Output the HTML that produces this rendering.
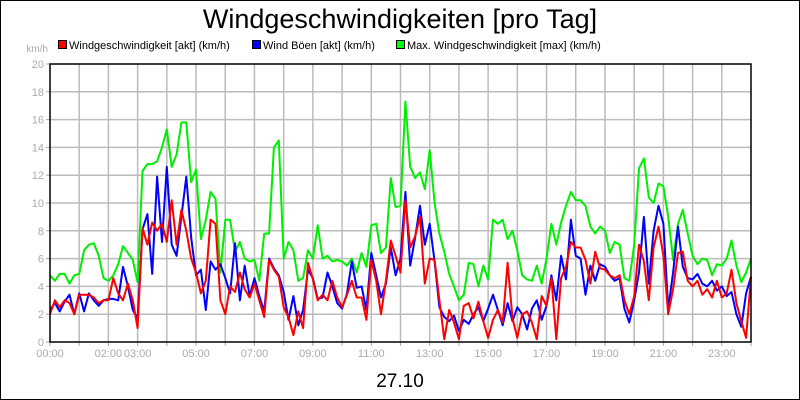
<!DOCTYPE html>
<html><head><meta charset="utf-8"><style>
body{margin:0;background:#fff}
svg{display:block;font-family:"Liberation Sans",sans-serif}
</style></head><body>
<svg id="chart" width="800" height="400" viewBox="0 0 800 400">
<rect x="0.5" y="0.5" width="799" height="399" fill="#fff" stroke="#000"/>
<text x="400" y="28" text-anchor="middle" font-size="27">Windgeschwindigkeiten [pro Tag]</text>
<g>
<g><rect x="58.5" y="40.5" width="8" height="8" fill="#f00" stroke="#000"/><text x="69" y="49" font-size="11">Windgeschwindigkeit [akt] (km/h)</text></g>
<g><rect x="252.5" y="40.5" width="8" height="8" fill="#00f" stroke="#000"/><text x="263" y="49" font-size="11">Wind Böen [akt] (km/h)</text></g>
<g><rect x="396.5" y="40.5" width="8" height="8" fill="#0f0" stroke="#000"/><text x="407" y="49" font-size="11">Max. Windgeschwindigkeit [max] (km/h)</text></g>
</g>
<text x="48" y="52" text-anchor="end" font-size="10" fill="#aaa">km/h</text>
<g id="grid"></g>
<g id="yaxis"></g>
<g id="xaxis"></g>
<g id="series"></g>
<rect x="50" y="64" width="701" height="278" fill="none" stroke="#000" stroke-width="1.5"/>
<text x="400" y="387" text-anchor="middle" font-size="19">27.10</text>
</svg>
<script>
const yTicks=[0,2,4,6,8,10,12,14,16,18,20];
const xTickLabels=["00:00","02:00","03:00","05:00","07:00","09:00","11:00","13:00","15:00","17:00","19:00","21:00","23:00"];
const xTickHours=[0,2,3,5,7,9,11,13,15,17,19,21,23];
const stepMinutes=10;
const maxSpeed=[4.8,4.4,4.9,4.9,4.2,4.8,4.9,6.6,7.0,7.1,6.2,4.6,4.4,4.8,5.6,6.9,6.4,5.9,4.3,12.3,12.8,12.8,13.0,14.0,15.3,12.6,13.5,15.8,15.8,11.5,12.4,7.4,8.8,10.8,10.3,5.0,
8.8,8.8,6.5,7.2,6.0,5.8,5.9,4.4,7.8,7.8,14.0,14.5,6.0,7.2,6.6,4.4,4.6,6.6,6.0,8.4,6.0,6.2,5.8,5.9,5.8,5.5,6.0,5.0,6.4,5.4,8.4,8.5,6.4,6.8,11.8,9.7,
9.8,17.3,12.6,11.8,12.2,11.0,13.8,10.0,7.8,6.5,4.9,4.0,3.0,3.4,5.7,5.6,4.0,5.5,4.5,8.8,8.5,8.8,7.4,8.0,6.6,4.8,4.5,4.4,5.5,4.2,6.0,8.5,7.0,8.6,9.8,10.8,10.2,
10.2,9.8,8.3,7.8,8.3,8.0,6.4,7.2,7.0,4.6,4.4,7.0,12.5,13.2,10.4,10.0,11.4,11.2,9.0,5.9,8.5,9.5,7.8,6.2,5.6,6.0,5.9,4.8,5.6,5.5,6.0,7.3,5.5,4.3,5.0,6.0];
const gusts=[2.3,2.8,2.2,2.9,3.4,2.0,3.5,2.2,3.5,3.0,2.6,3.0,3.1,3.1,3.0,5.4,4.0,2.3,1.7,8.1,9.2,4.9,11.9,7.2,12.6,7.0,6.2,9.0,11.9,7.5,4.8,5.2,2.3,5.8,5.2,5.6,
4.6,3.5,7.1,3.0,5.5,3.3,4.6,3.3,2.2,6.0,5.3,4.8,3.6,1.6,3.3,1.2,2.3,5.2,4.6,3.1,3.2,5.0,4.0,2.8,2.4,3.5,5.8,3.9,4.0,2.3,6.4,4.8,3.2,4.2,6.8,4.8,
6.0,10.8,5.5,7.5,9.8,7.0,8.5,5.8,2.5,1.8,1.5,1.9,0.8,1.6,1.3,2.0,2.5,1.5,2.4,3.4,2.3,1.2,2.8,1.5,2.5,2.0,0.9,2.4,3.0,1.6,2.6,4.8,3.0,6.2,4.5,8.8,6.2,
6.0,3.4,5.5,4.4,5.6,5.4,4.8,4.4,4.6,2.4,1.4,3.0,5.0,9.0,4.2,8.0,9.8,8.5,2.4,5.0,8.3,5.4,4.6,4.5,4.9,4.2,4.0,4.4,3.7,4.0,3.3,3.6,2.0,1.1,3.5,4.7];
const speed=[2.0,3.0,2.5,3.0,2.8,2.0,3.4,3.4,3.4,3.2,2.8,3.0,3.0,4.6,3.5,3.0,4.2,3.0,1.0,8.2,7.0,8.6,8.0,8.5,7.2,10.2,7.0,9.5,8.0,6.0,5.0,3.5,4.4,8.8,8.5,3.0,
2.0,4.0,3.6,5.0,3.8,3.2,4.2,3.0,1.8,5.9,5.2,4.7,2.5,1.8,0.5,2.2,1.0,5.7,4.5,3.0,3.4,3.0,4.4,3.2,2.5,3.4,4.4,3.2,3.2,1.6,5.9,4.4,2.0,4.4,7.3,6.2,
5.0,10.2,6.8,7.6,9.0,4.2,6.0,5.9,3.0,0.2,2.3,1.4,0.2,2.6,2.8,1.7,2.9,1.5,0.3,1.6,2.3,1.4,5.7,1.7,0.3,2.0,2.2,1.4,0.2,3.3,2.6,4.6,0.2,4.6,5.4,7.2,6.8,
6.8,5.9,4.2,6.5,5.3,5.2,4.8,4.6,4.8,3.0,2.0,3.3,7.0,5.8,3.0,6.8,8.3,6.2,2.0,3.8,6.4,6.5,4.4,4.0,4.4,3.4,3.8,3.2,4.4,3.2,3.5,5.2,2.8,1.5,0.3,4.7];

const NS="http://www.w3.org/2000/svg";
const X0=50,X1=751,Y0=342,Y1=64,YMAX=20;
const xOf=h=>X0+(X1-X0)*h/24;
const yOf=v=>Y0-(Y0-Y1)*v/YMAX;
function mk(tag,attrs,parent){const e=document.createElementNS(NS,tag);for(const k in attrs)e.setAttribute(k,attrs[k]);parent.appendChild(e);return e;}
const grid=document.getElementById('grid'),ya=document.getElementById('yaxis'),xa=document.getElementById('xaxis'),ser=document.getElementById('series');
for(let h=1;h<24;h++){const x=xOf(h);
 const l=mk('line',{x1:x,x2:x,y1:Y1,y2:Y0,stroke:'#bbb','stroke-width':1.5},grid);
 
 }
for(let h=0;h<=24;h++){const x=xOf(h);
 const t=mk('line',{x1:x,x2:x,y1:Y0,y2:Y0+4,stroke:'#aaa'},xa);
 
 }
yTicks.forEach(v=>{const y=yOf(v);
 if(v>0&&v<YMAX){const l=mk('line',{x1:X0,x2:X1,y1:y,y2:y,stroke:'#bbb','stroke-width':1.5},grid);
  
  }
 const t=mk('line',{x1:X0-4,x2:X0,y1:y,y2:y,stroke:'#aaa'},ya);
 
 
 const tx=mk('text',{x:X0-6,y:y+4,'text-anchor':'end','font-size':11,fill:'#aaa'},ya);
 tx.textContent=v;
 
 });
xTickLabels.forEach((s,i)=>{const tx=mk('text',{x:xOf(xTickHours[i]),y:357,'text-anchor':'middle','font-size':11,fill:'#aaa'},xa);
 tx.textContent=s;
 
 });
function line(vals,color,name){
 const pts=vals.map((v,i)=>xOf(i*stepMinutes/60).toFixed(1)+','+yOf(v).toFixed(1)).join(' ');
 const p=mk('polyline',{points:pts,fill:'none',stroke:color,'stroke-width':2,'stroke-linejoin':'round'},ser);
 
 }
line(maxSpeed,'#00ee00','max-speed-line');
line(gusts,'#0000ff','gusts-line');
line(speed,'#ff0000','wind-speed-line');
</script>
</body></html>
